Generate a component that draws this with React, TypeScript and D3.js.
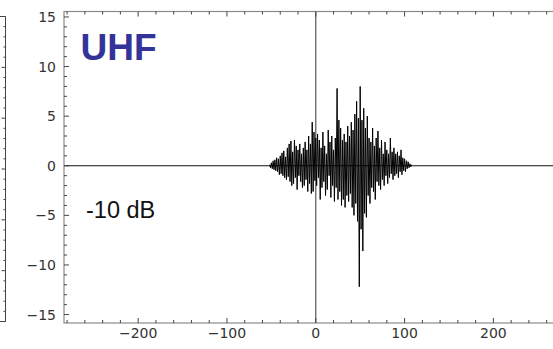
import React from "react";
import * as d3 from "d3";

// Signal samples (time axis starts at signalStart, one sample per signalStep)
const signalStart = -52;
const signalStep = 1;
const signalValues: number[] = [
  0.1, -0.2, 0.3, -0.3, 0.5, -0.4, 0.6, -0.5, 0.8, -0.6, 0.7, -0.9, 1.0,
  -0.8, 1.3, -1.0, 1.5, -1.2, 0.9, -1.4, 1.8, -1.1, 2.2,
  -1.6, 2.5, -2.0, 1.4, -1.8, 2.6, -1.2, 2.0, -2.4, 1.6,
  -1.0, 2.2, -1.6, 1.2, -2.2, 1.8, -2.0, 2.4, -1.4, 1.6,
  -2.6, 3.0, -1.8, 2.2, -2.8, 4.4, -2.6, 3.4, -1.5, 2.8,
  -2.0, 3.2, -1.2, 2.6, -3.4, 1.8, -2.2, 3.4, -1.6, 2.0,
  -3.0, 1.2, -2.4, 3.6, -1.0, 2.4, -3.2, 3.0, -2.0, 1.6,
  -3.6, 2.8, -2.2, 7.8, -3.4, 4.6, -2.6, 3.8, -4.0, 2.6,
  -3.4, 3.2, -4.2, 2.4, -3.0, 4.0, -3.6, 3.0, -2.8, 4.4,
  -4.2, 3.6, -5.0, 5.2, -3.8, 6.5, -5.6, 4.8, -12.2, 8.0,
  -6.4, 4.6, -8.6, 5.8, -4.8, 3.8, -5.2, 5.0, -3.0, 2.8,
  -3.8, 2.4, -2.2, 3.8, -2.6, 2.0, -3.4, 2.8, -1.6, 3.5,
  -2.0, 1.8, -2.4, 2.6, -1.4, 1.2, -2.0, 2.4, -1.0, 1.6,
  -1.8, 1.2, -1.2, 2.8, -0.8, 1.4, -1.4, 1.8, -1.0, 1.2,
  -0.8, 1.4, -1.2, 1.0, -0.6, 1.6, -0.9, 0.8, -0.5, 0.7,
  -0.6, 0.5, -0.3, 0.4, -0.2, 0.2, -0.1, 0.1,
];

const xMajorTicks = [-200, -100, 0, 100, 200];
const yMajorTicks = [-15, -10, -5, 0, 5, 10, 15];
const bandLabel = "UHF";
const levelLabel = "-10 dB";

const W = 553;
const H = 349;

const fmt = (v: number) => (v < 0 ? "\u2212" + Math.abs(v) : String(v));

export default function App() {
  const left = 64;
  const right = 560;
  const top = 11.5;
  const bottom = 323;
  const x = d3.scaleLinear().domain([-283.5, 275]).range([left, right]);
  const y = d3.scaleLinear().domain([-15.85, 15.55]).range([bottom, top]);

  const pts: [number, number][] = signalValues.map((v, i) => [
    signalStart + i * signalStep,
    v,
  ]);
  const line = d3
    .line<[number, number]>()
    .x((d) => x(d[0]))
    .y((d) => y(d[1]));

  const xMinor = d3.range(-280, 276, 20);
  const yMinor = d3.range(-15, 16, 1);
  const frameColor = "#8a8a8a";

  // left partial panel ticks
  const leftPanelTicks = d3.range(0, 31, 1);

  return (
    <svg
      width={W}
      height={H}
      style={{ position: "absolute", left: 0, top: 0, background: "#fff" }}
    >
      {/* partial neighbouring panel on far left */}
      <g stroke="#444" strokeWidth={1} fill="none">
        <path d={`M0,16.5 H5.5 V321.5 H0`} />
        {leftPanelTicks.map((i) => {
          const yy = 16.5 + (i * (321.5 - 16.5)) / 30;
          const len = i % 5 === 0 ? 4 : 2;
          return <line key={i} x1={5.5 - len} x2={5.5} y1={yy} y2={yy} />;
        })}
      </g>

      <defs>
        <clipPath id="plot">
          <rect x={left} y={top} width={right - left} height={bottom - top} />
        </clipPath>
      </defs>

      {/* axes at zero */}
      <line x1={left} x2={W} y1={y(0)} y2={y(0)} stroke="#111" strokeWidth={1.2} />
      <line x1={x(0)} x2={x(0)} y1={top} y2={bottom} stroke="#555" strokeWidth={1.2} />

      {/* signal */}
      <path
        d={line(pts) || ""}
        fill="none"
        stroke="#000"
        strokeWidth={1}
        clipPath="url(#plot)"
      />

      {/* frame */}
      <rect
        x={left}
        y={top}
        width={right - left}
        height={bottom - top}
        fill="none"
        stroke={frameColor}
        strokeWidth={1.2}
      />

      {/* x ticks (bottom and top, inward) */}
      <g stroke="#444" strokeWidth={1}>
        {xMinor.map((t) => {
          const major = t % 100 === 0;
          const len = major ? 5 : 3;
          return (
            <g key={t}>
              <line x1={x(t)} x2={x(t)} y1={bottom} y2={bottom - len} />
              <line x1={x(t)} x2={x(t)} y1={top} y2={top + len} />
            </g>
          );
        })}
        {yMinor.map((t) => {
          const major = t % 5 === 0;
          const len = major ? 5 : 3;
          return <line key={t} x1={left} x2={left + len} y1={y(t)} y2={y(t)} />;
        })}
      </g>

      {/* tick labels */}
      <g fontFamily="DejaVu Sans" fontSize={14} fill="#333">
        {xMajorTicks.map((t) => (
          <text key={t} x={x(t)} y={338} textAnchor="middle">
            {fmt(t)}
          </text>
        ))}
        {yMajorTicks.map((t) => (
          <text key={t} x={56} y={y(t) + 5} textAnchor="end">
            {fmt(t)}
          </text>
        ))}
      </g>

      <text
        x={80.5}
        y={60}
        fontFamily="Liberation Sans"
        fontWeight="bold"
        fontSize={37}
        fill="#333399"
      >
        {bandLabel}
      </text>
      <text
        x={86}
        y={218}
        fontFamily="Liberation Sans"
        fontSize={23.5}
        fill="#111"
      >
        {levelLabel}
      </text>
    </svg>
  );
}
